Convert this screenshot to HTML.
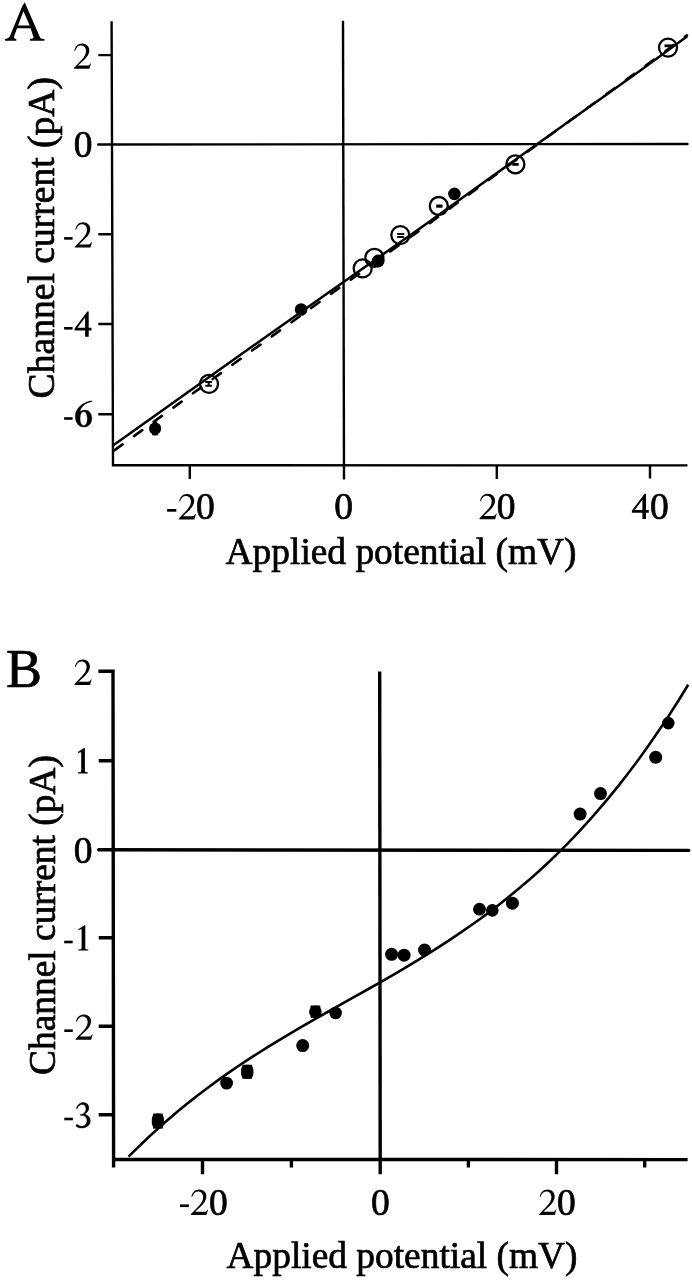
<!DOCTYPE html>
<html><head><meta charset="utf-8"><title>Figure</title><style>
html,body{margin:0;padding:0;background:#fff;width:692px;height:1280px;overflow:hidden}
svg{display:block;will-change:transform}
text{font-family:"Liberation Serif",serif;fill:#000;stroke:#000;stroke-width:0.7px}
</style></head><body>
<svg width="692" height="1280" viewBox="0 0 692 1280">
<g fill="none" stroke="#000">
<!-- ===== Panel A ===== -->
<g stroke-width="2.4">
<path d="M111.6 21.2 L113 465.2 L687.5 465.4" stroke-linejoin="miter"/>
<path d="M98.3 55.1H112.1 M98.3 234.2H112.3 M98.3 324H112.5 M98.3 414.3H112.8"/>
<path d="M98.2 144.5 L687.5 144" stroke-linecap="round"/>
<path d="M343 20.8 L344 479.4" />
<path d="M189.8 465 V479 M496.8 465 V479 M650 465 V478.6"/>
</g>
<!-- fit lines -->
<path d="M113.0 445.58 L250.0 348.02 L330.0 291.55 L424.0 225.51 L470.0 192.35 L560.0 127.76 L640.0 70.69 L687.3 36.30" stroke-width="2.5"/>
<path d="M113.5 450.94 L250.0 352.03 L330.0 294.55 L424.0 227.34 L470.0 193.60 L560.0 127.88 L640.0 69.81 L687.0 35.25" stroke-width="2.6" stroke-linecap="round" stroke-dasharray="10.2 14.1" stroke-dashoffset="-1"/>
<!-- open circles -->
<g stroke-width="2.3">
<circle cx="209" cy="383.9" r="9"/>
<circle cx="362.7" cy="268.4" r="9"/>
<circle cx="374.4" cy="257.8" r="9"/>
<circle cx="400.3" cy="235.1" r="9"/>
<circle cx="438.8" cy="206" r="9"/>
<circle cx="515.4" cy="164.3" r="9"/>
<circle cx="668" cy="47.6" r="9"/>
</g>
<!-- error bars A -->
<g stroke-width="2">
<path d="M205.3 382H212 M205.3 385.8H212 M208.7 382V385.8"/>
<path stroke-width="2" d="M397.2 234H404.2 M397.2 236.9H404.2"/>
</g>
<g stroke-width="2.8">
<path stroke-width="3.2" d="M436.2 206.1H442.5"/>
<path d="M512.3 164.4H518.7"/>
<path d="M664.5 45.8H673.7"/>

</g>
</g>
<g fill="#000">
<circle cx="155.1" cy="428.6" r="6.1"/>
<path d="M155.3 420.6 L160.6 426 L149.8 426.5 Z"/>
<rect x="152.2" y="433.3" width="5.6" height="2.1"/>
<circle cx="301.1" cy="309.5" r="6.3"/>
<circle cx="378.2" cy="261" r="6.4"/>
<circle cx="454.4" cy="193.9" r="6.3"/>
</g>

<!-- ===== Panel B ===== -->
<g fill="none" stroke="#000" stroke-width="3.4">
<path d="M98.4 671.2 H113 L113.6 1167.6" stroke-linejoin="miter"/>
<path d="M98.7 760.8H113 M98.7 937.8H113.2 M98.7 1026.3H113.4 M98.7 1114.7H113.5"/>
<path d="M113 1159.5 L687.6 1159.6"/>
<path d="M98.7 849.8 L688.7 850.4" stroke-linecap="round"/>
<path d="M379.7 671.5 L380.2 1174.2"/>
<path d="M202.5 1159 V1174.3 M556.5 1159 V1174.3 M291.4 1159 V1167.6 M468.4 1159 V1167.6 M644.7 1159 V1167.6"/>
</g>
<path fill="none" stroke="#000" stroke-width="2.6" d="M128.5 1156.7 L138.5 1146.8 L148.5 1137.2 L158.5 1128.1 L168.5 1119.3 L178.5 1110.8 L188.5 1102.6 L198.5 1094.8 L208.5 1087.2 L218.5 1079.9 L228.4 1072.9 L238.4 1066.0 L248.4 1059.4 L258.4 1053.0 L268.4 1046.7 L278.4 1040.6 L288.4 1034.6 L298.4 1028.7 L308.4 1022.9 L318.4 1017.2 L328.4 1011.5 L338.4 1005.9 L348.4 1000.2 L358.4 994.6 L368.4 989.0 L378.4 983.3 L388.4 977.6 L398.4 971.8 L408.4 965.9 L418.3 959.8 L428.3 953.7 L438.3 947.4 L448.3 940.9 L458.3 934.2 L468.3 927.3 L478.3 920.2 L488.3 912.9 L498.3 905.2 L508.3 897.3 L518.3 889.1 L528.3 880.6 L538.3 871.7 L548.3 862.5 L558.3 852.9 L568.3 842.8 L578.3 832.4 L588.3 821.5 L598.2 810.2 L608.2 798.4 L618.2 786.1 L628.2 773.3 L638.2 760.0 L648.2 746.1 L658.2 731.6 L668.2 716.6 L678.2 701.0 L688.2 684.7"/>
<g fill="#000">
<rect x="151.8" y="1113.6" width="12.2" height="15" rx="5" ry="5.5"/>
<circle cx="226.6" cy="1083.1" r="6.4"/>
<rect x="241.1" y="1064.8" width="12.3" height="14" rx="5" ry="5"/>
<circle cx="302.7" cy="1045.6" r="6.5"/>
<circle cx="315.4" cy="1011.7" r="6.3"/>
<circle cx="335.6" cy="1013" r="6.3"/>
<circle cx="391.6" cy="954.3" r="6.5"/>
<circle cx="404.1" cy="955.2" r="6.5"/>
<circle cx="424.5" cy="950" r="6.5"/>
<circle cx="479.5" cy="909.2" r="6.4"/>
<circle cx="492.3" cy="910.4" r="6.3"/>
<circle cx="512.4" cy="903.2" r="6.5"/>
<circle cx="580.1" cy="814.1" r="6.5"/>
<circle cx="600.5" cy="793.6" r="6.5"/>
<circle cx="655.7" cy="757.3" r="6.5"/>
<circle cx="668.3" cy="723.1" r="6.3"/>
<rect x="153" y="1113.6" width="9.8" height="3" />
<rect x="153" y="1125.6" width="9.8" height="3" />
<rect x="242.4" y="1064.8" width="9.7" height="2.8" />
<rect x="242.4" y="1076" width="9.7" height="2.8" />
<rect x="310.6" y="1005.5" width="9.6" height="2.2" />
<rect x="310.6" y="1015.6" width="9.6" height="2.2" />
</g>

<!-- ===== Text ===== -->
<path fill="#000" fill-rule="evenodd" d="M24.7 2.3 L40.3 37.9 Q41.2 39 44.4 39.1 L44.4 40.8 L30 40.8 L30 39.1 Q33.4 39 33.6 37.6 L30.6 28.2 L17 28.2 L14.1 36.6 Q13.5 38.9 16.3 39.1 L16.3 40.8 L5.1 40.8 L5.1 39.1 Q8.3 38.8 9.8 36.4 L22.2 6.3 Z M23.4 11.3 L18.1 25.6 L29.7 25.6 Z"/>
<g font-size="37.5" text-anchor="end">

<text x="92.5" y="157">0</text>



</g>
<g font-size="37.5" text-anchor="middle">
<text x="196.05" y="519" text-anchor="start">0</text>
<text x="343.5" y="519">0</text>
<text x="496.8" y="519" text-anchor="start">0</text>
<text x="650" y="519" text-anchor="start">0</text>
</g>
<text x="225.6" y="564" font-size="37.4">Applied potential (mV)</text>
<text transform="translate(53.8 398.4) rotate(-90)" font-size="37.6">Channel current (pA)</text>

<text x="6" y="686.8" font-size="54">B</text>
<g font-size="37.5" text-anchor="end">

<path transform="translate(-0.4 -177.1)" d="M84.5 925.2 L85.3 925.2 L85.3 948.6 Q85.4 949.4 88.3 949.5 L88.3 950.6 L78.3 950.6 L78.3 949.5 Q81.5 949.4 81.6 948.4 L81.6 929.6 Q81.5 928.9 78.4 930 L78.2 929.2 Z"/>
<text x="92.5" y="862.7">0</text>
<path d="M84.5 925.2 L85.3 925.2 L85.3 948.6 Q85.4 949.4 88.3 949.5 L88.3 950.6 L78.3 950.6 L78.3 949.5 Q81.5 949.4 81.6 948.4 L81.6 929.6 Q81.5 928.9 78.4 930 L78.2 929.2 Z"/>


</g>
<g font-size="37.5" text-anchor="middle">
<text x="209.05" y="1214.5" text-anchor="start">0</text>
<text x="380.3" y="1214.5">0</text>
<text x="557" y="1214.5" text-anchor="start">0</text>
</g>
<text x="226.5" y="1268" font-size="37.4">Applied potential (mV)</text>
<text transform="translate(54.5 1074.9) rotate(-90)" font-size="37.4">Channel current (pA)</text>
<g fill="#000">
<rect x="64.1" y="237.1" width="8.5" height="2.6"/>
<rect x="64.1" y="327" width="8.5" height="2.6"/>
<rect x="64.1" y="417.2" width="8.5" height="2.6"/>
<rect x="167.1" y="509" width="9.2" height="2.7"/>
<rect x="64.2" y="940.7" width="8.5" height="2.6"/>
<rect x="64.3" y="1029.4" width="8.5" height="2.6"/>
<rect x="64.3" y="1117.7" width="8.6" height="2.6"/>
<rect x="180" y="1204.4" width="8.9" height="2.7"/>
</g>
<g fill="#000">
<path transform="translate(73.9 43.4)" d="M0.4 7.2 C1.2 2.8 4.2 0 8.2 0 C12.6 0 15.4 3 15.4 7 C15.4 10.6 13.3 13.4 9.8 16.9 L4.1 22.2 L13.4 22.2 C15 22.2 15.8 21.4 16.6 19.8 L17.1 20 L15.5 25.4 L0 25.4 L0 24.5 L7.8 16.3 C10.7 13.2 12.1 10.4 12.1 7.6 C12.1 4.4 10.2 2 7.2 2 C4.4 2 2.6 3.8 1.1 7.5 Z"/>
<path transform="translate(74.9 222.2)" d="M0.4 7.2 C1.2 2.8 4.2 0 8.2 0 C12.6 0 15.4 3 15.4 7 C15.4 10.6 13.3 13.4 9.8 16.9 L4.1 22.2 L13.4 22.2 C15 22.2 15.8 21.4 16.6 19.8 L17.1 20 L15.5 25.4 L0 25.4 L0 24.5 L7.8 16.3 C10.7 13.2 12.1 10.4 12.1 7.6 C12.1 4.4 10.2 2 7.2 2 C4.4 2 2.6 3.8 1.1 7.5 Z"/>
<path transform="translate(178.8 494.0)" d="M0.4 7.2 C1.2 2.8 4.2 0 8.2 0 C12.6 0 15.4 3 15.4 7 C15.4 10.6 13.3 13.4 9.8 16.9 L4.1 22.2 L13.4 22.2 C15 22.2 15.8 21.4 16.6 19.8 L17.1 20 L15.5 25.4 L0 25.4 L0 24.5 L7.8 16.3 C10.7 13.2 12.1 10.4 12.1 7.6 C12.1 4.4 10.2 2 7.2 2 C4.4 2 2.6 3.8 1.1 7.5 Z"/>
<path transform="translate(479.6 493.8)" d="M0.4 7.2 C1.2 2.8 4.2 0 8.2 0 C12.6 0 15.4 3 15.4 7 C15.4 10.6 13.3 13.4 9.8 16.9 L4.1 22.2 L13.4 22.2 C15 22.2 15.8 21.4 16.6 19.8 L17.1 20 L15.5 25.4 L0 25.4 L0 24.5 L7.8 16.3 C10.7 13.2 12.1 10.4 12.1 7.6 C12.1 4.4 10.2 2 7.2 2 C4.4 2 2.6 3.8 1.1 7.5 Z"/>
<path transform="translate(74.5 659.5)" d="M0.4 7.2 C1.2 2.8 4.2 0 8.2 0 C12.6 0 15.4 3 15.4 7 C15.4 10.6 13.3 13.4 9.8 16.9 L4.1 22.2 L13.4 22.2 C15 22.2 15.8 21.4 16.6 19.8 L17.1 20 L15.5 25.4 L0 25.4 L0 24.5 L7.8 16.3 C10.7 13.2 12.1 10.4 12.1 7.6 C12.1 4.4 10.2 2 7.2 2 C4.4 2 2.6 3.8 1.1 7.5 Z"/>
<path transform="translate(75.6 1014.4)" d="M0.4 7.2 C1.2 2.8 4.2 0 8.2 0 C12.6 0 15.4 3 15.4 7 C15.4 10.6 13.3 13.4 9.8 16.9 L4.1 22.2 L13.4 22.2 C15 22.2 15.8 21.4 16.6 19.8 L17.1 20 L15.5 25.4 L0 25.4 L0 24.5 L7.8 16.3 C10.7 13.2 12.1 10.4 12.1 7.6 C12.1 4.4 10.2 2 7.2 2 C4.4 2 2.6 3.8 1.1 7.5 Z"/>
<path transform="translate(191.0 1189.6)" d="M0.4 7.2 C1.2 2.8 4.2 0 8.2 0 C12.6 0 15.4 3 15.4 7 C15.4 10.6 13.3 13.4 9.8 16.9 L4.1 22.2 L13.4 22.2 C15 22.2 15.8 21.4 16.6 19.8 L17.1 20 L15.5 25.4 L0 25.4 L0 24.5 L7.8 16.3 C10.7 13.2 12.1 10.4 12.1 7.6 C12.1 4.4 10.2 2 7.2 2 C4.4 2 2.6 3.8 1.1 7.5 Z"/>
<path transform="translate(539.3 1189.6)" d="M0.4 7.2 C1.2 2.8 4.2 0 8.2 0 C12.6 0 15.4 3 15.4 7 C15.4 10.6 13.3 13.4 9.8 16.9 L4.1 22.2 L13.4 22.2 C15 22.2 15.8 21.4 16.6 19.8 L17.1 20 L15.5 25.4 L0 25.4 L0 24.5 L7.8 16.3 C10.7 13.2 12.1 10.4 12.1 7.6 C12.1 4.4 10.2 2 7.2 2 C4.4 2 2.6 3.8 1.1 7.5 Z"/>
</g>
<g fill="#000">
<path fill-rule="evenodd" transform="translate(74.6 311.5)" d="M12.7 0 L14.1 0 L14.1 16.2 L16.9 16.2 L16.9 19.1 L14.1 19.1 L14.1 25.3 L10.5 25.3 L10.5 19.1 L0 19.1 L0 16.9 Z M10.5 6.1 L10.5 16.2 L2.9 16.2 Z"/>
<path fill-rule="evenodd" transform="translate(631.9 493.7)" d="M12.7 0 L14.1 0 L14.1 16.2 L16.9 16.2 L16.9 19.1 L14.1 19.1 L14.1 25.3 L10.5 25.3 L10.5 19.1 L0 19.1 L0 16.9 Z M10.5 6.1 L10.5 16.2 L2.9 16.2 Z"/>
</g>
<g fill="#000" stroke="#000" stroke-width="0.35">
<path fill-rule="evenodd" transform="translate(75.3 400.8)" d="M16.3 0 C9.5 0.6 0 6.5 0 15.5 C0 22 3.5 26.3 8.3 26.3 C13.3 26.3 16.5 22.5 16.5 17.6 C16.5 12.4 13.6 9.2 9.6 9.2 C7.4 9.2 5.8 10 4.6 11 C5.8 5.5 10.5 1.8 16.5 0.9 Z M8.4 11 C6 11 4.8 13.8 4.8 18 C4.8 22.2 6.2 24.6 8.5 24.6 C10.8 24.6 12 22.4 12 18.2 C12 13.6 10.6 11 8.4 11 Z"/>
<path transform="translate(75.9 1102.6)" d="M0.3 6 C1.4 2.4 4 0 7.4 0 C10.8 0 13 2.2 13 5.4 C13 8 11.4 9.9 9 11.3 C12.6 12.6 14.5 15.2 14.5 18.2 C14.5 22.6 10.8 25.5 5.8 25.5 C3 25.5 0.9 24.6 0 23.4 C0 22.4 0.6 21.9 1.3 21.9 C2.4 21.9 3.4 23.7 5.8 23.7 C9 23.7 11.1 21.3 11.1 18 C11.1 14.6 8.8 12.8 5.6 12.8 L4.3 12.8 L4.3 12 C8 11.6 10 9 10 6.3 C10 3.6 8.6 1.8 6.4 1.8 C4 1.8 2.4 3.4 1 6.4 Z"/>
</g>
</svg>
</body></html>
